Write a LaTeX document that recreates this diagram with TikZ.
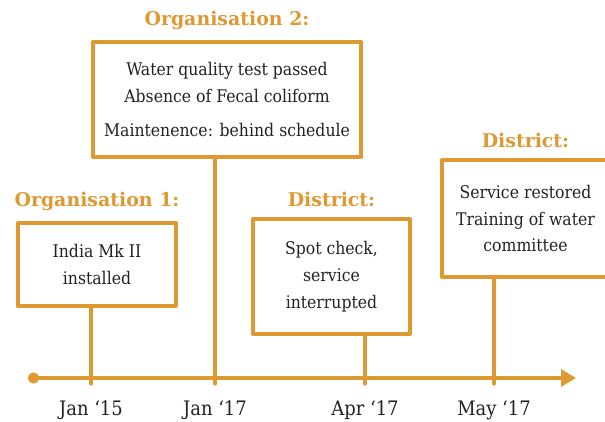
\documentclass[tikz,border=0pt]{standalone}
\usepackage{fontspec}
\setmainfont{DejaVu Serif Condensed}
\newfontfamily\headfont{DejaVu Serif}
\usetikzlibrary{positioning,arrows.meta}
\definecolor{timeorange}{RGB}{222,153,51}
\definecolor{textgray}{RGB}{34,34,34}

\begin{document}
\begin{tikzpicture}[x=1bp, y=-1bp, line cap=round, line join=round,
    every node/.style={text=textgray, inner sep=0pt},
    eventbox/.style={rectangle, draw=timeorange, line width=3.3bp, align=center,
        font=\fontsize{17.5}{27}\selectfont},
    who/.style={font=\headfont\bfseries\fontsize{19}{19}\selectfont, text=timeorange},
    datelabel/.style={font=\fontsize{20}{22}\selectfont},
    stem/.style={draw=timeorange, line width=3.3bp}]
    \useasboundingbox (0,0) rectangle (605,421);
    \clip (0,0) rectangle (605,421);

    % Event boxes
    \node[eventbox, minimum width=158bp, minimum height=83bp] (pump) at (97,264.5) {India Mk II\\installed};
    \node[eventbox, minimum width=268bp, minimum height=115bp] (quality) at (227,99.5) {Water quality test passed\\Absence of Fecal coliform\\[7bp]Maintenence: behind schedule};
    \node[eventbox, minimum width=157bp, minimum height=115bp] (spot) at (331.5,276.5) {Spot check,\\service\\interrupted};
    \node[eventbox, minimum width=167bp, minimum height=117bp] (restore) at (525.5,218.5) {Service restored\\Training of water\\committee};

    % Who reported
    \node[who, above=10bp of pump] (org1) {Organisation 1:};
    \node[who, above=10bp of quality] (org2) {Organisation 2:};
    \node[who, above=10bp of spot] (dist1) {District:};
    \node[who, above=10bp of restore] (dist2) {District:};

    % Time axis
    \coordinate (start) at (28,378);
    \coordinate (end) at (576,378);
    \draw[stem, {Circle[length=11bp]}-{Triangle[length=15bp, width=17bp]}] (start) -- (end);

    % Ticks
    \coordinate (jan15) at (91,384);
    \coordinate (jan17) at (215,384);
    \coordinate (apr17) at (365,384);
    \coordinate (may17) at (494,384);
    \draw[stem] (jan15) -- (jan15 |- pump.south);
    \draw[stem] (jan17) -- (jan17 |- quality.south);
    \draw[stem] (apr17) -- (apr17 |- spot.south);
    \draw[stem] (may17) -- (may17 |- restore.south);

    % Dates
    \node[datelabel, below=17bp of jan15] (d1) {Jan ‘15};
    \node[datelabel, below=17bp of jan17] (d2) {Jan ‘17};
    \node[datelabel, below=17bp of apr17] (d3) {Apr ‘17};
    \node[datelabel, below=17bp of may17] (d4) {May ‘17};
\end{tikzpicture}
\end{document}
